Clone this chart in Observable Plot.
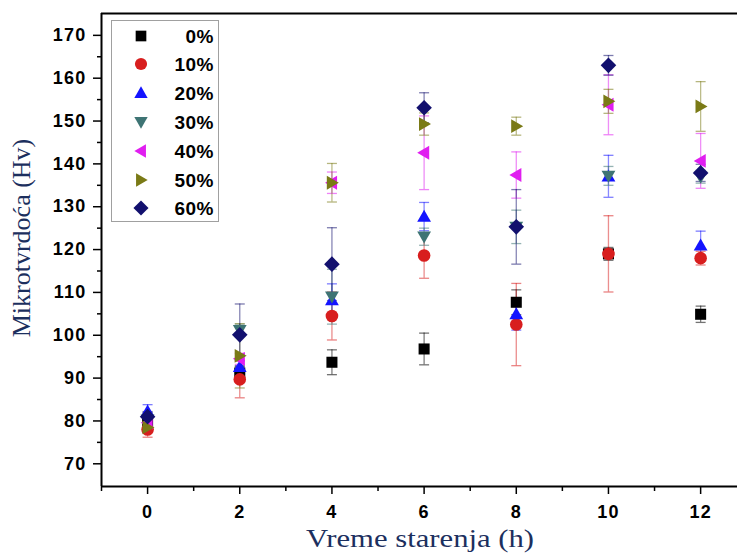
<!DOCTYPE html>
<html>
<head>
<meta charset="utf-8">
<script src="https://cdn.jsdelivr.net/npm/d3@7"></script>
<script src="https://cdn.jsdelivr.net/npm/@observablehq/plot@0.6"></script>
<style>
  html, body { margin: 0; padding: 0; background: #fff; }
  #wrap { position: relative; width: 737px; height: 556px; overflow: hidden; }
  .ttl { position: absolute; font-family: "Liberation Serif", "DejaVu Serif", serif; font-size: 26px; color: #1c2f5e; white-space: nowrap; }
  #wrap svg text { letter-spacing: 1.2px; }
</style>
</head>
<body>
<div id="wrap"></div>
<script>
const hours = [0, 2, 4, 6, 8, 10, 12];
const seriesNames = ["0%", "10%", "20%", "30%", "40%", "50%", "60%"];
const seriesColors = ["#000000", "#d81e1e", "#1414ff", "#3e7474", "#e01ef0", "#7a7a16", "#12106e"];

const v0  = [80.0, 91.2, 93.7, 96.8, 107.7, 119.0, 104.9];
const v10 = [78.0, 89.7, 104.5, 118.6, 102.5, 119.0, 118.0];
const v20 = [82.2, 92.6, 108.2, 127.7, 104.9, 137.1, 121.0];
const v30 = [80.3, 101.2, 109.0, 123.0, 125.3, 137.2, 137.0];
const v40 = [79.6, 94.5, 135.6, 142.6, 137.4, 153.8, 140.7];
const v50 = [78.5, 95.2, 135.6, 149.3, 148.8, 154.6, 153.4];
const v60 = [81.0, 100.1, 116.6, 153.1, 125.3, 163.0, 137.9];

const e0  = [2.0, 1.5, 2.9, 3.7, 2.9, 1.5, 1.9];
const e10 = [1.8, 4.3, 5.6, 5.3, 9.6, 8.9, 1.6];
const e20 = [1.6, 1.5, 3.8, 3.3, 3.7, 4.9, 3.3];
const e30 = [1.5, 1.4, 6.4, 2.0, 3.9, 2.2, 1.5];
const e40 = [1.0, 1.3, 2.5, 8.6, 5.4, 7.0, 6.4];
const e50 = [1.2, 7.5, 4.5, 2.6, 2.1, 2.8, 5.8];
const e60 = [1.2, 7.2, 8.5, 3.5, 8.7, 2.3, 2.0];

const yTicks = [70, 80, 90, 100, 110, 120, 130, 140, 150, 160, 170];
const yMinor = [75, 85, 95, 105, 115, 125, 135, 145, 155, 165];
const xTicks = [0, 2, 4, 6, 8, 10, 12];
const xMinor = [-1, 1, 3, 5, 7, 9, 11];

const values = [v0, v10, v20, v30, v40, v50, v60];
const errors = [e0, e10, e20, e30, e40, e50, e60];

// custom symbols
const rOf = size => Math.sqrt(size / Math.PI);
const symSquare = { draw(c, s) { const h = rOf(s) * 0.92; c.rect(-h, -h, 2 * h, 2 * h); } };
const symCircle = { draw(c, s) { const r = rOf(s) * 1.05; c.moveTo(r, 0); c.arc(0, 0, r, 0, 2 * Math.PI); } };
const symUp = { draw(c, s) { const r = rOf(s); c.moveTo(0, -r * 1.15); c.lineTo(r * 1.15, r * 0.85); c.lineTo(-r * 1.15, r * 0.85); c.closePath(); } };
const symDown = { draw(c, s) { const r = rOf(s); c.moveTo(0, r * 1.15); c.lineTo(r * 1.15, -r * 0.85); c.lineTo(-r * 1.15, -r * 0.85); c.closePath(); } };
const symLeft = { draw(c, s) { const r = rOf(s); c.moveTo(-r * 1.15, 0); c.lineTo(r * 0.85, -r * 1.15); c.lineTo(r * 0.85, r * 1.15); c.closePath(); } };
const symRight = { draw(c, s) { const r = rOf(s); c.moveTo(r * 1.15, 0); c.lineTo(-r * 0.85, -r * 1.15); c.lineTo(-r * 0.85, r * 1.15); c.closePath(); } };
const symDiamond = { draw(c, s) { const r = rOf(s) * 1.3; c.moveTo(0, -r); c.lineTo(r, 0); c.lineTo(0, r); c.lineTo(-r, 0); c.closePath(); } };
const symCap = { draw(c, s) { c.moveTo(-5, 0); c.lineTo(5, 0); } };
const symbols = [symSquare, symCircle, symUp, symDown, symLeft, symRight, symDiamond];

const yDomain = [64.7, 175.1];
const xDomain = [-1, 12.8];

const marks = [];
seriesNames.forEach((name, i) => {
  const rows = hours.map((h, j) => ({ x: h, y: values[i][j], e: errors[i][j] }));
  const col = seriesColors[i];
  marks.push(Plot.ruleX(rows, { x: "x", y1: d => d.y - d.e, y2: d => d.y + d.e, stroke: col, strokeOpacity: 0.5, strokeWidth: 1.3 }));
  marks.push(Plot.dot(rows, { x: "x", y: d => d.y + d.e, symbol: symCap, r: 5, stroke: col, strokeOpacity: 0.55, strokeWidth: 1.3, fill: "none" }));
  marks.push(Plot.dot(rows, { x: "x", y: d => d.y - d.e, symbol: symCap, r: 5, stroke: col, strokeOpacity: 0.55, strokeWidth: 1.3, fill: "none" }));
});
seriesNames.forEach((name, i) => {
  const rows = hours.map((h, j) => ({ x: h, y: values[i][j] }));
  marks.push(Plot.dot(rows, { x: "x", y: "y", symbol: symbols[i], r: 6, fill: seriesColors[i], stroke: "none" }));
});

const chart = Plot.plot({
  width: 737,
  height: 556,
  marginLeft: 101,
  marginRight: 0,
  marginTop: 13,
  marginBottom: 70,
  style: { fontFamily: "Liberation Sans, Arial, sans-serif", fontSize: "18px", fontWeight: "bold", color: "#000", background: "#fff" },
  x: { domain: xDomain },
  y: { domain: yDomain },
  marks: [
    Plot.axisY({ ticks: yTicks, tickSize: 8, tickPadding: 7, label: null, strokeWidth: 1.5 }),
    Plot.axisY({ ticks: yMinor, tickSize: 4, tickFormat: () => "", label: null, strokeWidth: 1.5 }),
    Plot.axisX({ ticks: xTicks, tickSize: 8, tickPadding: 11, label: null, strokeWidth: 1.5 }),
    Plot.axisX({ ticks: xMinor, tickSize: 5, tickFormat: () => "", label: null, strokeWidth: 1.5 }),
    ...marks,
    Plot.ruleX([xDomain[0]], { stroke: "#000", strokeWidth: 2 }),
    Plot.ruleY([yDomain[0]], { stroke: "#000", strokeWidth: 1.8 }),
    Plot.ruleY([yDomain[1]], { stroke: "#000", strokeWidth: 2.2 })
  ]
});

const wrap = document.getElementById("wrap");
wrap.appendChild(chart);

// axis titles
const xt = document.createElement("div");
xt.className = "ttl";
xt.textContent = "Vreme starenja (h)";
xt.style.left = "420px"; xt.style.top = "524px"; xt.style.transform = "translateX(-50%) scaleX(1.18)";
wrap.appendChild(xt);

const yt = document.createElement("div");
yt.className = "ttl";
yt.textContent = "Mikrotvrdoća (Hv)";
yt.style.left = "22px"; yt.style.top = "238px";
yt.style.transform = "translate(-50%, -50%) rotate(-90deg)";
wrap.appendChild(yt);

// legend
const lg = d3.create("svg").attr("width", 108).attr("height", 202)
  .style("position", "absolute").style("left", "111px").style("top", "20px");
lg.append("rect").attr("x", 0.5).attr("y", 0.5).attr("width", 107).attr("height", 201)
  .attr("fill", "#fff").attr("stroke", "#a0a0a0");
const rowY = [16, 44, 73, 102, 131, 160, 188];
seriesNames.forEach((name, i) => {
  const p = d3.path();
  symbols[i].draw(p, Math.PI * 5.8 * 5.8);
  lg.append("path").attr("d", p.toString()).attr("transform", `translate(30,${rowY[i]})`).attr("fill", seriesColors[i]);
  lg.append("text").attr("x", 103).attr("y", rowY[i]).attr("dy", "0.36em").attr("text-anchor", "end")
    .attr("font-family", "Liberation Sans, Arial, sans-serif").attr("font-weight", "bold").attr("font-size", 19)
    .style("letter-spacing", "0.5px")
    .text(name);
});
wrap.appendChild(lg.node());
</script>
</body>
</html>
